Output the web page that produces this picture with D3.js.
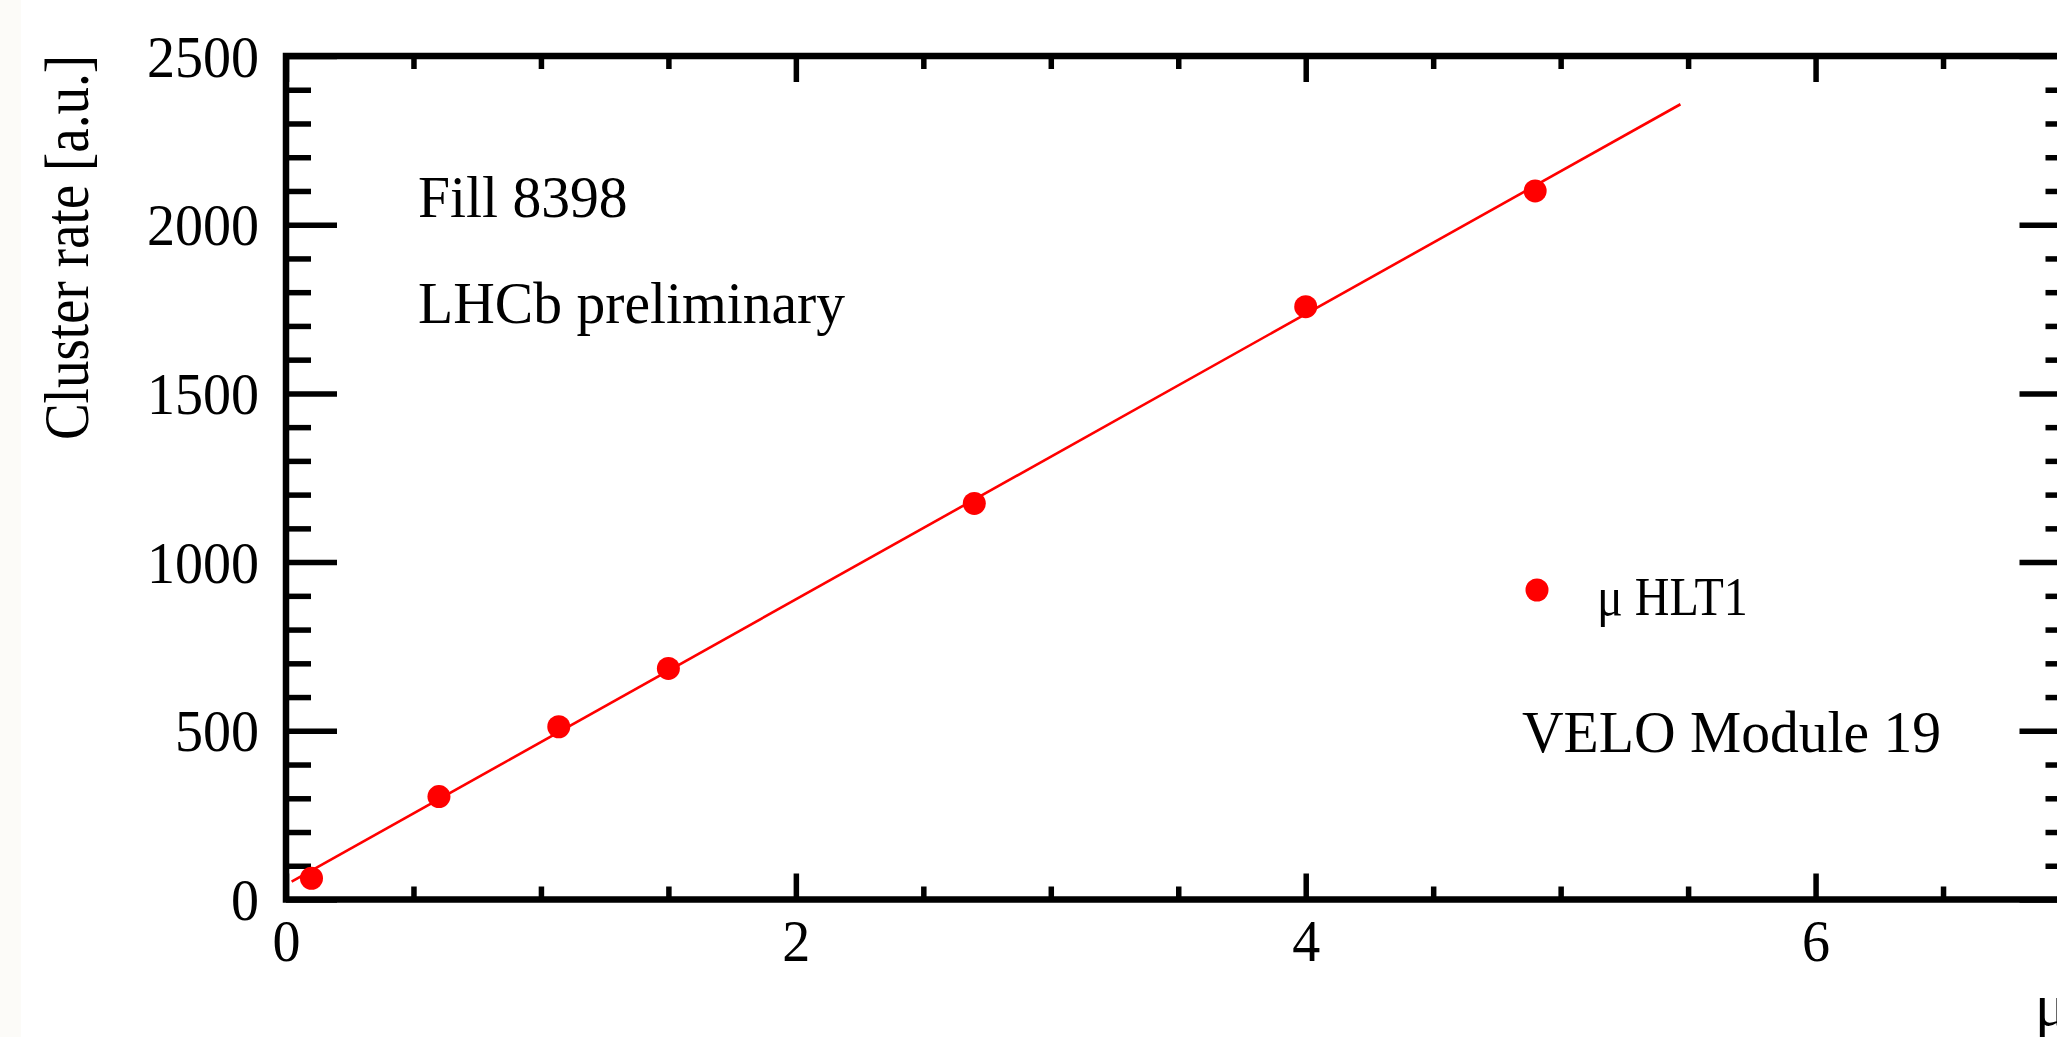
<!DOCTYPE html>
<html>
<head>
<meta charset="utf-8">
<script src="https://cdn.jsdelivr.net/npm/d3@7"></script>
<style>
  body { margin: 0; background: #ffffff; }
  svg text { font-family: "Liberation Serif", "DejaVu Serif", serif; fill: #000; }
</style>
</head>
<body>
<div id="chart"></div>
<script>
// data
var muValues = [0.10, 0.60, 1.07, 1.50, 2.70, 4.00, 4.90];
var clusterRates = [63, 305, 512, 685, 1174, 1757, 2100];
// fit line end points
var fitX = [0.022, 5.47];
var fitY = [53, 2357];
var xMajorTicks = [0, 2, 4, 6];
var xMinorTicks = [0.5, 1, 1.5, 2.5, 3, 3.5, 4.5, 5, 5.5, 6.5];
var yMajorTicks = [0, 500, 1000, 1500, 2000, 2500];
var yMinorTicks = [100, 200, 300, 400, 600, 700, 800, 900, 1100, 1200, 1300, 1400,
                   1600, 1700, 1800, 1900, 2100, 2200, 2300, 2400];
var notes = ["Fill 8398", "LHCb preliminary"];
var legendLabel = "\u03bc HLT1";
var moduleLabel = "VELO Module 19";

function drawChart() {
var svgWidth = 2057;
var svgHeight = 1037;

// frame edges
var frameLeft = 286, frameRight = 2070.5, frameTop = 56, frameBottom = 899.5;

var svg = d3.select("#chart")
    .append("svg")
    .attr("width", svgWidth)
    .attr("height", svgHeight);

svg.append("rect")
    .attr("width", svgWidth).attr("height", svgHeight)
    .attr("fill", "#ffffff");
// faint strip on the left edge
svg.append("rect")
    .attr("width", 21).attr("height", svgHeight)
    .attr("fill", "#fcfbf8");

// the font in the picture is a bit narrower than Liberation Serif
function squeeze(sel, size, factor) {
    sel.style("font-size", size + "px");
    sel.each(function() {
        var w = this.getComputedTextLength();
        d3.select(this)
            .attr("textLength", w * factor)
            .attr("lengthAdjust", "spacingAndGlyphs");
    });
    return sel;
}

var x = d3.scaleLinear().domain([0, 7]).range([frameLeft, frameRight]);
var y = d3.scaleLinear().domain([0, 2500]).range([frameBottom, frameTop]);

// ticks: d3 axes, domain path removed, frame drawn separately
function drawAxis(axis, tx, ty, values, size, labels) {
    var g = svg.append("g")
        .attr("transform", `translate(${tx}, ${ty})`)
        .call(axis.tickValues(values).tickSize(size).tickSizeOuter(0)
            .tickFormat(labels ? d3.format("d") : ""));
    g.select(".domain").remove();
    g.selectAll("line").attr("stroke", "#000").attr("stroke-width", 5.5);
    return g;
}

// bottom axis
drawAxis(d3.axisBottom(x), 0, frameBottom, xMinorTicks, -13, false);
var xAxisG = drawAxis(d3.axisBottom(x), 0, frameBottom, xMajorTicks, -26, true);
squeeze(xAxisG.selectAll("text").attr("y", 61).attr("dy", 0), 59, 0.95);
// top axis
drawAxis(d3.axisTop(x), 0, frameTop, xMinorTicks, -13, false);
drawAxis(d3.axisTop(x), 0, frameTop, xMajorTicks, -26, false);
// left axis
drawAxis(d3.axisLeft(y), frameLeft, 0, yMinorTicks, -25, false);
var yAxisG = drawAxis(d3.axisLeft(y), frameLeft, 0, yMajorTicks, -51, true);
squeeze(yAxisG.selectAll("text").attr("x", -27).attr("dy", 0).attr("y", 20), 59, 0.95);
// right axis
drawAxis(d3.axisRight(y), frameRight, 0, yMinorTicks, -25, false);
drawAxis(d3.axisRight(y), frameRight, 0, yMajorTicks, -51, false);

// frame
svg.append("rect")
    .attr("x", frameLeft).attr("y", frameTop)
    .attr("width", frameRight - frameLeft).attr("height", frameBottom - frameTop)
    .attr("fill", "none")
    .attr("stroke", "#000")
    .attr("stroke-width", 6.5);

// fit line
var fitData = fitX.map(function(d, i) { return [d, fitY[i]]; });
svg.append("path")
    .datum(fitData)
    .attr("d", d3.line().x(d => x(d[0])).y(d => y(d[1])))
    .attr("fill", "none")
    .attr("stroke", "#ff0000")
    .attr("stroke-width", 2.6);

// markers
var points = muValues.map(function(d, i) { return {mu: d, rate: clusterRates[i]}; });
svg.selectAll(".pt")
    .data(points)
    .enter()
    .append("circle")
    .attr("class", "pt")
    .attr("cx", d => x(d.mu))
    .attr("cy", d => y(d.rate))
    .attr("r", 11.5)
    .attr("fill", "#ff0000");

// axis titles
squeeze(svg.append("text")
    .attr("transform", "translate(88, 55) rotate(-90)")
    .attr("text-anchor", "end")
    .text("Cluster rate [a.u.]"), 64, 0.86);

svg.append("text")
    .attr("x", 2035).attr("y", 1025)
    .style("font-size", "60px")
    .text("\u03bc");

// annotations
squeeze(svg.append("text")
    .attr("x", 418).attr("y", 217)
    .text(notes[0]), 60, 0.96);
squeeze(svg.append("text")
    .attr("x", 418).attr("y", 323)
    .text(notes[1]), 60, 0.96);
squeeze(svg.append("text")
    .attr("x", 1522).attr("y", 752)
    .text(moduleLabel), 60, 0.96);

// legend
svg.append("circle")
    .attr("cx", 1537).attr("cy", 590)
    .attr("r", 11.5)
    .attr("fill", "#ff0000");
squeeze(svg.append("text")
    .attr("x", 1597).attr("y", 615)
    .text(legendLabel), 54, 0.89);
}
drawChart();
</script>
</body>
</html>
